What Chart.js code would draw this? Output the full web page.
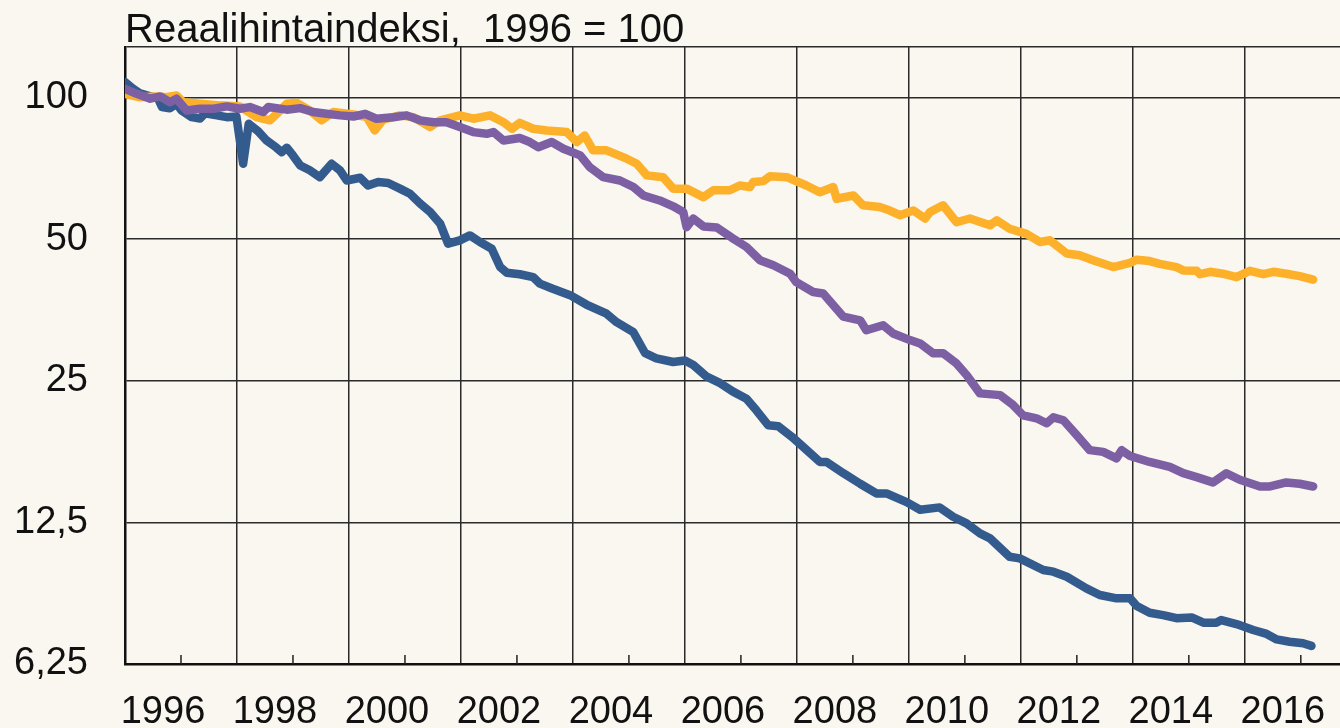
<!DOCTYPE html>
<html lang="fi">
<head>
<meta charset="utf-8">
<title>Reaalihintaindeksi</title>
<script src="https://cdn.jsdelivr.net/npm/chart.js@4.4.1/dist/chart.umd.min.js"></script>
<style>
  html, body { margin: 0; padding: 0; background: #faf6f0; }
  #wrap { width: 1340px; height: 728px; position: relative; }
</style>
</head>
<body>
<div id="wrap"><canvas id="chart"></canvas></div>
<script>
// otsikko ja akselit
const titleText = "Reaalihintaindeksi,  1996 = 100";
const xTickYears = [1996, 1997, 1998, 1999, 2000, 2001, 2002, 2003, 2004, 2005, 2006,
  2007, 2008, 2009, 2010, 2011, 2012, 2013, 2014, 2015, 2016, 2017];
const xLabelYears = [1996, 1998, 2000, 2002, 2004, 2006, 2008, 2010, 2012, 2014, 2016];
const yTicks = [6.25, 12.5, 25, 50, 100];
const yTickLabels = ["6,25", "12,5", "25", "50", "100"];
const yMin = 6.25;
const yMax = 128;
const xMin = 1996;
const xMax = 2017.7;

// sarjat: [vuosi, indeksi]
const blueSeries = [
  [1996.0, 107.8], [1996.14, 104.5], [1996.27, 102.0], [1996.45, 100.5], [1996.59, 99.5],
  [1996.66, 95.4], [1996.80, 94.8], [1996.92, 97.0], [1997.01, 93.8], [1997.19, 90.8],
  [1997.34, 90.2], [1997.43, 92.5], [1997.64, 91.6], [1997.82, 90.8], [1997.99, 91.1],
  [1998.11, 72.3], [1998.21, 87.9], [1998.38, 84.7], [1998.53, 81.0], [1998.70, 78.3],
  [1998.80, 76.5], [1998.89, 78.2], [1999.00, 75.3], [1999.13, 71.7], [1999.30, 70.0],
  [1999.48, 67.7], [1999.69, 72.3], [1999.84, 70.0], [1999.96, 66.6], [2000.20, 67.5],
  [2000.34, 65.0], [2000.52, 66.1], [2000.70, 65.8], [2000.91, 64.0], [2001.09, 62.4],
  [2001.27, 59.5], [2001.45, 57.1], [2001.63, 53.9], [2001.77, 48.9], [2001.98, 49.7],
  [2002.16, 50.9], [2002.34, 49.3], [2002.55, 47.7], [2002.70, 43.6], [2002.82, 42.4],
  [2003.05, 42.1], [2003.29, 41.5], [2003.41, 40.2], [2003.64, 39.2], [2003.95, 38.0],
  [2004.24, 36.3], [2004.60, 34.7], [2004.78, 33.3], [2005.08, 31.7], [2005.29, 28.6],
  [2005.49, 27.9], [2005.79, 27.4], [2006.00, 27.6], [2006.15, 27.0], [2006.39, 25.5],
  [2006.63, 24.7], [2006.86, 23.7], [2007.10, 22.9], [2007.28, 21.6], [2007.49, 20.1],
  [2007.67, 20.0], [2007.91, 19.0], [2008.11, 18.1], [2008.41, 16.8], [2008.53, 16.8],
  [2008.83, 15.9], [2009.13, 15.1], [2009.42, 14.4], [2009.60, 14.4], [2009.96, 13.8],
  [2010.20, 13.3], [2010.55, 13.45], [2010.79, 12.85], [2011.03, 12.44], [2011.27, 11.84],
  [2011.45, 11.56], [2011.80, 10.56], [2011.98, 10.48], [2012.40, 9.90], [2012.58, 9.82],
  [2012.82, 9.58], [2013.17, 9.05], [2013.41, 8.76], [2013.71, 8.62], [2013.95, 8.62],
  [2014.07, 8.30], [2014.30, 8.03], [2014.54, 7.94], [2014.78, 7.82], [2015.05, 7.85],
  [2015.26, 7.65], [2015.49, 7.65], [2015.58, 7.75], [2015.85, 7.60], [2016.15, 7.38],
  [2016.39, 7.24], [2016.57, 7.05], [2016.80, 6.97], [2017.04, 6.92], [2017.19, 6.83]
];

const purpleSeries = [
  [1996.0, 104.3], [1996.21, 101.8], [1996.45, 99.4], [1996.63, 100.5], [1996.80, 97.7],
  [1996.92, 99.4], [1997.10, 93.8], [1997.34, 94.6], [1997.58, 94.6], [1997.82, 95.7],
  [1998.05, 94.6], [1998.23, 95.4], [1998.47, 93.1], [1998.56, 95.4], [1998.89, 94.2],
  [1999.13, 94.9], [1999.36, 93.1], [1999.60, 92.3], [1999.84, 91.6], [2000.08, 91.1],
  [2000.29, 92.3], [2000.49, 90.1], [2000.79, 90.8], [2001.03, 91.6], [2001.27, 89.4],
  [2001.51, 88.6], [2001.74, 88.6], [2001.98, 86.5], [2002.22, 84.4], [2002.46, 83.7],
  [2002.58, 84.4], [2002.76, 81.0], [2003.05, 82.0], [2003.23, 80.4], [2003.38, 78.4],
  [2003.62, 80.4], [2003.83, 77.8], [2004.13, 75.3], [2004.30, 71.1], [2004.54, 67.7],
  [2004.84, 66.6], [2005.08, 64.5], [2005.26, 61.9], [2005.55, 60.4], [2005.79, 58.7],
  [2005.97, 57.1], [2006.03, 53.0], [2006.15, 55.3], [2006.33, 53.2], [2006.57, 52.9],
  [2006.84, 50.3], [2007.10, 48.1], [2007.34, 45.1], [2007.58, 44.0], [2007.88, 42.2],
  [2007.99, 40.5], [2008.29, 38.6], [2008.47, 38.3], [2008.83, 34.2], [2009.13, 33.6],
  [2009.24, 32.0], [2009.54, 32.8], [2009.72, 31.5], [2010.02, 30.5], [2010.20, 30.0],
  [2010.43, 28.6], [2010.61, 28.6], [2010.85, 27.2], [2011.03, 25.7], [2011.27, 23.5],
  [2011.63, 23.3], [2011.86, 22.2], [2012.04, 21.1], [2012.28, 20.8], [2012.46, 20.3],
  [2012.58, 20.9], [2012.76, 20.6], [2012.99, 19.2], [2013.23, 17.8], [2013.47, 17.65],
  [2013.71, 17.1], [2013.80, 17.8], [2013.95, 17.3], [2014.30, 16.8], [2014.66, 16.4],
  [2014.90, 15.9], [2015.14, 15.6], [2015.43, 15.2], [2015.67, 15.9], [2015.91, 15.4],
  [2016.27, 14.9], [2016.45, 14.9], [2016.74, 15.2], [2016.98, 15.1], [2017.22, 14.9]
];

const orangeSeries = [
  [1996.0, 101.8], [1996.27, 100.1], [1996.57, 100.5], [1996.74, 100.1], [1996.92, 101.0],
  [1997.04, 97.7], [1997.34, 97.0], [1997.70, 96.2], [1998.05, 95.7], [1998.35, 90.8],
  [1998.59, 89.4], [1998.68, 91.6], [1998.89, 97.0], [1999.07, 97.3], [1999.30, 93.8],
  [1999.51, 89.4], [1999.72, 93.1], [2000.08, 92.0], [2000.32, 90.8], [2000.46, 85.1],
  [2000.61, 89.7], [2000.91, 91.6], [2001.15, 90.8], [2001.45, 86.5], [2001.63, 89.4],
  [2001.98, 91.6], [2002.22, 90.1], [2002.52, 91.6], [2002.76, 88.6], [2002.91, 85.8],
  [2003.05, 88.3], [2003.29, 85.8], [2003.53, 85.1], [2003.89, 84.4], [2004.07, 80.4],
  [2004.21, 83.0], [2004.36, 77.2], [2004.60, 77.2], [2004.96, 74.1], [2005.14, 72.3],
  [2005.32, 68.3], [2005.61, 67.7], [2005.79, 64.0], [2006.03, 64.0], [2006.33, 61.4],
  [2006.51, 63.5], [2006.80, 63.5], [2006.98, 65.0], [2007.16, 64.5], [2007.22, 66.1],
  [2007.40, 66.4], [2007.52, 68.0], [2007.82, 67.7], [2008.17, 65.0], [2008.41, 62.9],
  [2008.65, 64.5], [2008.71, 60.9], [2009.01, 61.9], [2009.18, 59.0], [2009.48, 58.5],
  [2009.66, 57.5], [2009.84, 56.2], [2010.08, 57.5], [2010.29, 55.3], [2010.38, 57.1],
  [2010.61, 59.0], [2010.85, 54.3], [2011.09, 55.3], [2011.45, 53.5], [2011.57, 54.8],
  [2011.80, 52.6], [2012.10, 51.3], [2012.34, 49.3], [2012.52, 49.7], [2012.82, 46.6],
  [2013.05, 46.2], [2013.29, 45.1], [2013.65, 43.6], [2013.95, 44.5], [2014.07, 45.2],
  [2014.30, 44.9], [2014.48, 44.3], [2014.78, 43.6], [2014.90, 42.9], [2015.14, 42.8],
  [2015.20, 42.1], [2015.38, 42.6], [2015.61, 42.2], [2015.85, 41.5], [2016.09, 42.8],
  [2016.33, 42.1], [2016.51, 42.6], [2016.74, 42.2], [2016.98, 41.7], [2017.22, 41.0]
];

const FONT = "'Liberation Sans', Arial, sans-serif";
const toPoints = s => s.map(([x, y]) => ({ x, y }));

// pienet väliviivat parittomille vuosille + otsikko
const decorations = {
  id: "decorations",
  beforeDatasetsDraw(chart) {
    const { ctx, chartArea, scales } = chart;
    ctx.save();
    ctx.strokeStyle = "#222";
    ctx.lineWidth = 1.5;
    xTickYears.filter(y => !xLabelYears.includes(y)).forEach(y => {
      const px = scales.x.getPixelForValue(y);
      ctx.beginPath();
      ctx.moveTo(px, chartArea.bottom);
      ctx.lineTo(px, chartArea.bottom - 9);
      ctx.stroke();
    });
    ctx.restore();
  },
  afterDraw(chart) {
    const { ctx, chartArea } = chart;
    ctx.save();
    ctx.font = "40px " + FONT;
    ctx.fillStyle = "#111";
    ctx.textAlign = "left";
    ctx.textBaseline = "alphabetic";
    ctx.fillText(titleText, chartArea.left, chartArea.top - 5);
    ctx.restore();
  }
};

new Chart(document.getElementById("chart"), {
  type: "line",
  data: {
    datasets: [
      {
        label: "sininen",
        data: toPoints(blueSeries),
        borderColor: "#345b8e",
        borderWidth: 8.5,
        order: 2
      },
      {
        label: "oranssi",
        data: toPoints(orangeSeries),
        borderColor: "#fdb12a",
        borderWidth: 8.5,
        order: 1
      },
      {
        label: "violetti",
        data: toPoints(purpleSeries),
        borderColor: "#7d60a3",
        borderWidth: 8.5,
        order: 0
      }
    ]
  },
  options: {
    responsive: true,
    maintainAspectRatio: false,
    animation: false,
    layout: { padding: { top: 47, left: 0, right: 0, bottom: 0 } },
    elements: {
      line: { tension: 0, borderJoinStyle: "round", borderCapStyle: "round" },
      point: { radius: 0 }
    },
    plugins: {
      legend: { display: false },
      title: { display: false },
      tooltip: { enabled: false }
    },
    scales: {
      x: {
        type: "linear",
        min: xMin,
        max: xMax,
        afterBuildTicks: scale => { scale.ticks = xTickYears.map(v => ({ value: v })); },
        afterFit: scale => { scale.height = 64; },
        grid: {
          drawTicks: true,
          tickLength: 26,
          tickColor: "rgba(0,0,0,0)",
          lineWidth: 1.5,
          color: c => (c.tick && xLabelYears.includes(c.tick.value)) ? "#2a2a2a" : "rgba(0,0,0,0)"
        },
        border: { display: true, color: "#111", width: 2.5 },
        ticks: {
          autoSkip: false,
          maxRotation: 0,
          padding: 0,
          labelOffset: 38,
          color: "#111",
          font: { family: FONT, size: 38 },
          callback: v => xLabelYears.includes(v) ? String(v) : ""
        }
      },
      y: {
        type: "logarithmic",
        min: yMin,
        max: yMax,
        afterBuildTicks: scale => { scale.ticks = yTicks.concat([yMax]).map(v => ({ value: v })); },
        afterFit: scale => { scale.width = 125; },
        grid: {
          drawTicks: true,
          tickLength: 37,
          tickColor: "rgba(0,0,0,0)",
          lineWidth: 1.5,
          color: "#2a2a2a"
        },
        border: { display: true, color: "#111", width: 2.5 },
        ticks: {
          padding: 0,
          color: "#111",
          font: { family: FONT, size: 38 },
          callback: v => {
            const i = yTicks.indexOf(v);
            return i >= 0 ? yTickLabels[i] : "";
          }
        }
      }
    }
  },
  plugins: [decorations]
});
</script>
</body>
</html>
